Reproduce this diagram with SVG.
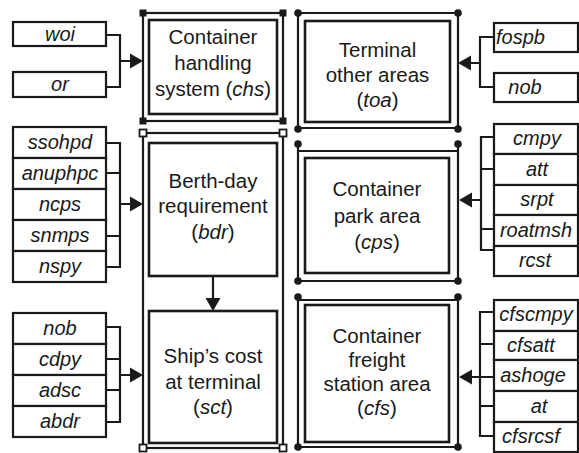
<svg xmlns="http://www.w3.org/2000/svg" width="579" height="453" viewBox="0 0 579 453">
  <defs>
    <style>
      .frame { fill: none; stroke: #1a1a1a; stroke-width: 2.2; }
      .inner { fill: #fff; stroke: #1a1a1a; stroke-width: 2.6; }
      .box { fill: #fff; stroke: #1a1a1a; stroke-width: 2.2; }
      .wire { fill: none; stroke: #1a1a1a; stroke-width: 2.2; }
      .head { fill: #1a1a1a; }
      .dot { fill: #1a1a1a; }
      .sq { fill: #1a1a1a; }
      .hsq { fill: #fff; stroke: #1a1a1a; stroke-width: 1.8; }
      .title { font-family: "Liberation Sans", Arial, sans-serif; font-size: 20.5px; fill: #1a1a1a; text-anchor: middle; }
      .lbl { font-family: "Liberation Sans", Arial, sans-serif; font-size: 20px; font-style: italic; fill: #1a1a1a; text-anchor: middle; }
      .lbl.start { text-anchor: start; }
    </style>
  </defs>

  <!-- Container handling system -->
  <g id="chs">
    <rect class="frame" x="143" y="13" width="140" height="108"/>
    <rect class="sq" x="139.5" y="9.5" width="7" height="7"/>
    <rect class="sq" x="279.5" y="9.5" width="7" height="7"/>
    <rect class="sq" x="139.5" y="117.5" width="7" height="7"/>
    <rect class="sq" x="279.5" y="117.5" width="7" height="7"/>
    <rect class="inner" x="149" y="20" width="128" height="94"/>
    <text class="title" x="213" y="44">Container</text>
    <text class="title" x="213" y="70">handling</text>
    <text class="title" x="213" y="96">system (<tspan font-style="italic">chs</tspan>)</text>
  </g>

  <!-- Outer frame holding bdr and sct -->
  <g id="ship-frame">
    <rect class="frame" x="143" y="133" width="140" height="315"/>
    <rect class="hsq" x="139.5" y="129.5" width="7" height="7"/>
    <rect class="hsq" x="279.5" y="129.5" width="7" height="7"/>
    <rect class="hsq" x="139.5" y="444.5" width="7" height="7"/>
    <rect class="hsq" x="279.5" y="444.5" width="7" height="7"/>
  </g>

  <g id="bdr">
    <rect class="inner" x="149" y="143" width="128" height="133"/>
    <text class="title" x="213" y="188">Berth-day</text>
    <text class="title" x="213" y="213">requirement</text>
    <text class="title" x="213" y="239">(<tspan font-style="italic">bdr</tspan>)</text>
  </g>

  <g id="sct">
    <rect class="inner" x="149" y="311" width="128" height="132"/>
    <text class="title" x="213" y="363">Ship’s cost</text>
    <text class="title" x="213" y="389">at terminal</text>
    <text class="title" x="213" y="414">(<tspan font-style="italic">sct</tspan>)</text>
  </g>

  <!-- Terminal other areas -->
  <g id="toa">
    <path class="frame" d="M298 13 H458 M298 13 V129 M458 13 V129 M298 128 H458"/>
    <circle class="dot" cx="298" cy="13" r="3.8"/>
    <circle class="dot" cx="458" cy="13" r="3.8"/>
    <circle class="dot" cx="298" cy="129" r="3.8"/>
    <circle class="dot" cx="458" cy="129" r="3.8"/>
    <rect class="inner" x="305" y="21" width="145" height="101"/>
    <text class="title" x="377.5" y="57">Terminal</text>
    <text class="title" x="377.5" y="82">other areas</text>
    <text class="title" x="377.5" y="107">(<tspan font-style="italic">toa</tspan>)</text>
  </g>

  <!-- Container park area -->
  <g id="cps">
    <path class="frame" d="M298 144 V281 M458 144 V281 M298 151 H458 M298 281 H458"/>
    <circle class="dot" cx="298" cy="144" r="3.8"/>
    <circle class="dot" cx="458" cy="144" r="3.8"/>
    <circle class="dot" cx="298" cy="281" r="3.8"/>
    <circle class="dot" cx="458" cy="281" r="3.8"/>
    <rect class="inner" x="305" y="158" width="144" height="115"/>
    <text class="title" x="377" y="196">Container</text>
    <text class="title" x="377" y="223">park area</text>
    <text class="title" x="377" y="249">(<tspan font-style="italic">cps</tspan>)</text>
  </g>

  <!-- Container freight station area -->
  <g id="cfs">
    <path class="frame" d="M298 297 V447 M458 297 V447 M298 300 H458 M298 447 H458"/>
    <circle class="dot" cx="298" cy="297" r="3.8"/>
    <circle class="dot" cx="458" cy="297" r="3.8"/>
    <circle class="dot" cx="298" cy="447" r="3.8"/>
    <circle class="dot" cx="458" cy="447" r="3.8"/>
    <rect class="inner" x="305" y="305" width="144" height="137"/>
    <text class="title" x="377" y="343">Container</text>
    <text class="title" x="377" y="367">freight</text>
    <text class="title" x="377" y="391">station area</text>
    <text class="title" x="377" y="415">(<tspan font-style="italic">cfs</tspan>)</text>
  </g>

  <!-- Input factor boxes, left side -->
  <g id="in-chs">
    <rect class="box" x="13" y="22" width="93" height="24"/>
    <text class="lbl" x="60" y="41">woi</text>
    <rect class="box" x="13" y="72" width="93" height="25"/>
    <text class="lbl" x="60" y="91">or</text>
  </g>

  <g id="in-bdr">
    <rect class="box" x="13" y="127" width="93" height="31"/>
    <rect class="box" x="13" y="158" width="93" height="31"/>
    <rect class="box" x="13" y="189" width="93" height="31"/>
    <rect class="box" x="13" y="220" width="93" height="31"/>
    <rect class="box" x="13" y="251" width="93" height="31"/>
    <text class="lbl" x="60" y="149">ssohpd</text>
    <text class="lbl" x="60" y="180">anuphpc</text>
    <text class="lbl" x="60" y="211">ncps</text>
    <text class="lbl" x="60" y="242">snmps</text>
    <text class="lbl" x="60" y="273">nspy</text>
  </g>

  <g id="in-sct">
    <rect class="box" x="13" y="313" width="93" height="31"/>
    <rect class="box" x="13" y="344" width="93" height="31"/>
    <rect class="box" x="13" y="375" width="93" height="31"/>
    <rect class="box" x="13" y="406" width="93" height="31"/>
    <text class="lbl" x="60" y="335">nob</text>
    <text class="lbl" x="60" y="366">cdpy</text>
    <text class="lbl" x="60" y="397">adsc</text>
    <text class="lbl" x="60" y="428">abdr</text>
  </g>

  <!-- Input factor boxes, right side -->
  <g id="in-toa">
    <rect class="box" x="494" y="23" width="84" height="29"/>
    <text class="lbl start" x="496" y="44">fospb</text>
    <rect class="box" x="494" y="73" width="84" height="29"/>
    <text class="lbl" x="525" y="94">nob</text>
  </g>

  <g id="in-cps">
    <rect class="box" x="494" y="124" width="84" height="30"/>
    <rect class="box" x="494" y="154" width="84" height="31"/>
    <rect class="box" x="494" y="185" width="84" height="30"/>
    <rect class="box" x="494" y="215" width="84" height="31"/>
    <rect class="box" x="494" y="246" width="84" height="30"/>
    <text class="lbl" x="537" y="145">cmpy</text>
    <text class="lbl" x="537" y="176">att</text>
    <text class="lbl" x="537" y="206">srpt</text>
    <text class="lbl" x="536" y="237">roatmsh</text>
    <text class="lbl" x="535" y="267">rcst</text>
  </g>

  <g id="in-cfs">
    <rect class="box" x="494" y="300" width="84" height="31"/>
    <rect class="box" x="494" y="331" width="84" height="29"/>
    <rect class="box" x="494" y="360" width="84" height="31"/>
    <rect class="box" x="494" y="391" width="84" height="31"/>
    <rect class="box" x="494" y="422" width="84" height="30"/>
    <text class="lbl" x="536" y="321">cfscmpy</text>
    <text class="lbl" x="531" y="352">cfsatt</text>
    <text class="lbl" x="533" y="382">ashoge</text>
    <text class="lbl" x="539" y="413">at</text>
    <text class="lbl" x="531" y="443">cfsrcsf</text>
  </g>

  <!-- Connectors -->
  <g id="connectors">
    <!-- woi, or -> chs -->
    <path class="wire" d="M106 35 H120 V87 H106 M120 61 H131"/>
    <path class="head" d="M143 61 L130 53.5 L130 68.5 Z"/>
    <!-- bdr inputs -->
    <path class="wire" d="M106 143 H120 V267 H106 M106 173 H120 M106 236 H120 M120 204 H131"/>
    <path class="head" d="M143 204 L130 196.5 L130 211.5 Z"/>
    <!-- sct inputs -->
    <path class="wire" d="M106 327 H120 V422 H106 M106 359 H120 M106 390 H120 M120 375 H131"/>
    <path class="head" d="M143 375 L130 367.5 L130 382.5 Z"/>
    <!-- bdr -> sct -->
    <path class="wire" d="M213 276 V299"/>
    <path class="head" d="M213 311 L205.5 298 L220.5 298 Z"/>
    <!-- toa inputs -->
    <path class="wire" d="M494 37 H480 V87 H494 M480 63 H470"/>
    <path class="head" d="M458 63 L471 55.5 L471 70.5 Z"/>
    <!-- cps inputs -->
    <path class="wire" d="M494 137 H481 V250 H494 M481 169 H494 M481 229 H494 M481 200 H471"/>
    <path class="head" d="M459 200 L472 192.5 L472 207.5 Z"/>
    <!-- cfs inputs -->
    <path class="wire" d="M494 312 H480 V436 H494 M480 344 H494 M480 406 H494 M494 377 H471"/>
    <path class="head" d="M459 377 L472 369.5 L472 384.5 Z"/>
  </g>
</svg>
